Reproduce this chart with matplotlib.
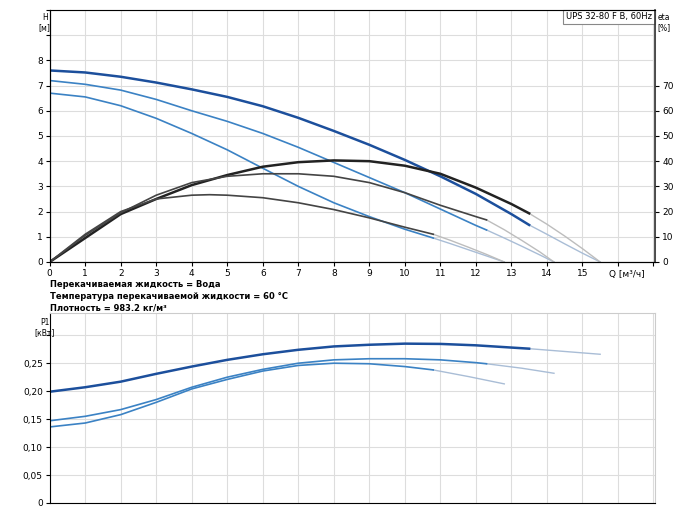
import numpy as np
import matplotlib
matplotlib.use("Agg")
import matplotlib.pyplot as plt

# Q-H curves (three speeds)
q_h1 = [0, 1, 2, 3, 4, 5, 6, 7, 8, 9, 10, 11, 12, 13, 13.5]
h1 = [7.6, 7.52, 7.35, 7.12, 6.85, 6.55, 6.18, 5.72, 5.2, 4.65, 4.05, 3.4, 2.7, 1.9, 1.47]
q_h1x = [13.5, 14, 14.5, 15, 15.5]
h1x = [1.47, 1.1, 0.72, 0.35, 0.0]

q_h2 = [0, 1, 2, 3, 4, 5, 6, 7, 8, 9, 10, 11, 12, 12.3]
h2 = [7.2, 7.05, 6.82, 6.45, 6.0, 5.58, 5.1, 4.55, 3.95, 3.35, 2.75, 2.1, 1.45, 1.27]
q_h2x = [12.3, 12.8, 13.3, 13.8, 14.2]
h2x = [1.27, 0.95, 0.62, 0.28, 0.0]

q_h3 = [0, 1, 2, 3, 4, 5, 6, 7, 8, 9, 10, 10.8]
h3 = [6.7, 6.55, 6.2, 5.7, 5.1, 4.45, 3.72, 3.0, 2.35, 1.8, 1.3, 0.95]
q_h3x = [10.8, 11.3, 11.8, 12.3, 12.8]
h3x = [0.95, 0.72, 0.48, 0.24, 0.0]

# efficiency curves [%]
q_e1 = [0, 1, 2, 3, 4, 5, 6, 7, 8, 9, 10, 11, 12, 13, 13.5]
e1 = [0, 9.5, 19.0, 25.0, 30.5, 34.5, 37.8, 39.6, 40.3, 40.0, 38.2, 35.0, 29.5, 23.0, 19.3]
q_e1x = [13.5, 14, 14.5, 15, 15.5]
e1x = [19.3, 15.0, 10.3, 5.3, 0.0]

q_e2 = [0, 1, 2, 3, 4, 5, 6, 7, 8, 9, 10, 11, 12, 12.3]
e2 = [0, 10.5, 19.5, 26.5, 31.5, 34.0, 35.0, 35.0, 34.0, 31.5, 27.5, 22.5, 18.0, 16.7]
q_e2x = [12.3, 12.8, 13.3, 13.8, 14.2]
e2x = [16.7, 12.8, 8.5, 4.0, 0.0]

q_e3 = [0, 1, 2, 3, 4, 4.5, 5, 6, 7, 8, 9, 10, 10.8]
e3 = [0, 11.0, 20.0, 25.0, 26.5, 26.7, 26.5, 25.5, 23.5, 20.8, 17.5, 13.8, 11.0]
q_e3x = [10.8, 11.3, 11.8, 12.3, 12.8]
e3x = [11.0, 8.5, 5.8, 3.0, 0.0]

# power curves P1 [kW]
q_p1 = [0, 1, 2, 3, 4, 5, 6, 7, 8, 9, 10, 11, 12, 13, 13.5]
p1 = [0.199, 0.207, 0.217, 0.231, 0.244, 0.256, 0.266, 0.274, 0.280, 0.283, 0.285, 0.2845, 0.282, 0.278, 0.276]
q_p1x = [13.5, 14.5, 15.5]
p1x = [0.276, 0.271, 0.266]

q_p2 = [0, 1, 2, 3, 4, 5, 6, 7, 8, 9, 10, 11, 12, 12.3]
p2 = [0.147, 0.155, 0.167, 0.185, 0.207, 0.225, 0.239, 0.250, 0.256, 0.258, 0.258, 0.256, 0.251, 0.249]
q_p2x = [12.3, 13.3, 14.2]
p2x = [0.249, 0.241, 0.232]

q_p3 = [0, 1, 2, 3, 4, 5, 6, 7, 8, 9, 10, 10.8]
p3 = [0.136, 0.143, 0.158, 0.180, 0.204, 0.221, 0.236, 0.246, 0.250, 0.249, 0.244, 0.238]
q_p3x = [10.8, 11.8, 12.8]
p3x = [0.238, 0.226, 0.213]

q_ticks = list(range(0, 16))
h_ticks = list(range(0, 9))
eta_ticks = list(range(0, 80, 10))
p_ticks = [0, 0.05, 0.10, 0.15, 0.20, 0.25]

notes = ["Перекачиваемая жидкость = Вода",
         "Температура перекачиваемой жидкости = 60 °C",
         "Плотность = 983.2 кг/м³"]

dark = "#1c4f9c"
blue = "#3b82c4"
ext_b = "#a9bdd6"
ext_g = "#bdbdbd"
grid_c = "#dddddd"
fs = 6.5

fig = plt.figure(figsize=(7, 5.25), dpi=100)
ax = fig.add_axes([0.071, 0.501, 0.865, 0.48])
ax.set_xlim(0, 17.05)
ax.set_ylim(0, 10)
ax.set_xticks(list(range(0, 18)))
ax.set_xticklabels([str(v) if v in q_ticks else "" for v in range(0, 18)], fontsize=fs)
ax.set_yticks(list(range(0, 11)))
ax.set_yticklabels([str(v) if v in h_ticks else "" for v in range(0, 11)], fontsize=fs)
ax.grid(True, color=grid_c, lw=0.8)
ax.tick_params(length=3, pad=2)
for s in ["top", "right"]:
    ax.spines[s].set_color("#cccccc")

ax.plot(q_h1x, h1x, color=ext_b, lw=1)
ax.plot(q_h2x, h2x, color=ext_b, lw=1)
ax.plot(q_h3x, h3x, color=ext_b, lw=1)
ax.plot(q_e1x, np.array(e1x) / 10, color=ext_g, lw=1)
ax.plot(q_e2x, np.array(e2x) / 10, color=ext_g, lw=1)
ax.plot(q_e3x, np.array(e3x) / 10, color=ext_g, lw=1)
ax.plot(q_h1, h1, color=dark, lw=1.8)
ax.plot(q_h2, h2, color=blue, lw=1.2)
ax.plot(q_h3, h3, color=blue, lw=1.2)
ax.plot(q_e1, np.array(e1) / 10, color="#222222", lw=1.8)
ax.plot(q_e2, np.array(e2) / 10, color="#444444", lw=1.2)
ax.plot(q_e3, np.array(e3) / 10, color="#444444", lw=1.2)

ax2 = ax.twinx()
ax2.set_ylim(0, 100)
ax2.set_yticks(eta_ticks)
ax2.set_yticklabels([str(v) for v in eta_ticks], fontsize=fs)
ax2.tick_params(length=3, pad=2)
ax2.spines["right"].set_color("#333333")
ax2.spines["right"].set_linewidth(1.2)

fig.text(0.064, 0.975, "H\n[м]", fontsize=5.5, ha="center", va="top")
fig.text(0.948, 0.975, "eta\n[%]", fontsize=5.5, ha="center", va="top")
fig.text(0.895, 0.478, "Q [м³/ч]", fontsize=fs, ha="center", va="center")
ax.text(0.995, 0.99, "UPS 32-80 F B, 60Hz", transform=ax.transAxes, fontsize=6,
        ha="right", va="top", bbox=dict(facecolor="white", edgecolor="#888888", lw=0.8, pad=2))
for i, t in enumerate(notes):
    fig.text(0.071, 0.458 - i * 0.022, t, fontsize=6, fontweight="bold", va="center")

bx = fig.add_axes([0.071, 0.042, 0.865, 0.362])
bx.set_xlim(0, 17.05)
bx.set_ylim(0, 0.34)
bx.set_xticks(list(range(0, 18)))
bx.set_xticklabels([])
bx.tick_params(axis="x", length=0)
bx.set_yticks(p_ticks + [0.30])
bx.set_yticklabels(["0"] + [f"{v:.2f}".replace(".", ",") for v in p_ticks[1:]] + [""], fontsize=fs)
bx.tick_params(axis="y", length=3, pad=2)
bx.grid(True, color=grid_c, lw=0.8)
for s in ["top", "right"]:
    bx.spines[s].set_color("#cccccc")
bx.plot(q_p1x, p1x, color=ext_b, lw=1)
bx.plot(q_p2x, p2x, color=ext_b, lw=1)
bx.plot(q_p3x, p3x, color=ext_b, lw=1)
bx.plot(q_p1, p1, color=dark, lw=1.8)
bx.plot(q_p2, p2, color=blue, lw=1.2)
bx.plot(q_p3, p3, color=blue, lw=1.2)
fig.text(0.064, 0.395, "P1\n[кВт]", fontsize=5.5, ha="center", va="top")

fig.savefig("out.png", dpi=100)
